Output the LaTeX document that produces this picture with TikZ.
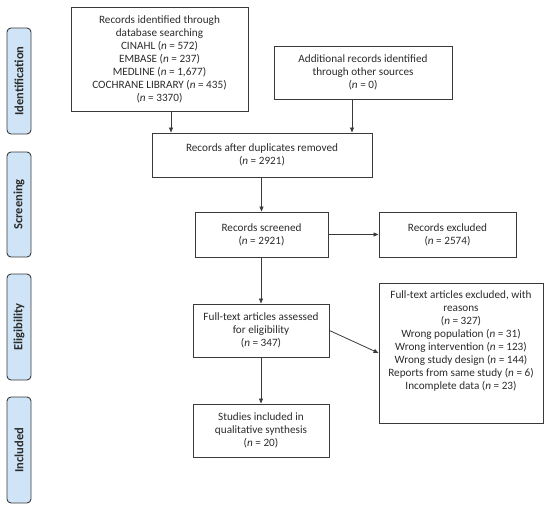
\documentclass[tikz,border=0pt]{standalone}
\usepackage{fontspec}
\setmainfont{Carlito}
\usetikzlibrary{arrows.meta,calc}
\definecolor{phasefill}{HTML}{CFE5F7}
\definecolor{txt}{HTML}{2B2B2B}
\definecolor{edge}{HTML}{3A3A3A}
\begin{document}
\begin{tikzpicture}[x=1pt,y=-1pt,
  box/.style={draw=edge,line width=0.9pt,rectangle,align=center,text=txt,font=\fontsize{11.2}{13}\selectfont,inner sep=2pt},
  phase/.style={draw=edge,line width=0.9pt,fill=phasefill,rounded corners=4pt,minimum height=24pt,text=txt,font=\fontsize{12.5}{13}\selectfont\bfseries,rotate=90,inner sep=0pt},
  plain/.style={align=center,text=txt,font=\fontsize{11.2}{13}\selectfont,inner sep=0pt},
  arr/.style={draw=edge,line width=0.8pt,-{Triangle[length=5pt,width=4pt]}}]
\useasboundingbox (0,0) rectangle (550,506);
% phase labels
\node[phase,minimum width=106pt] (pid) at (19,81) {Identification};
\node[phase,minimum width=105pt] (psc) at (19,204.5) {Screening};
\node[phase,minimum width=106pt] (pel) at (19,327) {Eligibility};
\node[phase,minimum width=106pt] (pin) at (19,450) {Included};
% boxes
\node[box,minimum width=177pt,minimum height=104pt] (b1) at (159.5,59) {Records identified through\\database searching\\CINAHL (\textit{n} = 572)\\EMBASE (\textit{n} = 237)\\MEDLINE (\textit{n} = 1,677)\\COCHRANE LIBRARY (\textit{n} = 435)\\(\textit{n} = 3370)};
\node[box,minimum width=178pt,minimum height=53pt] (b2) at (363,72.5) {Additional records identified\\through other sources\\(\textit{n} = 0)};
\node[box,minimum width=220pt,minimum height=44pt] (b3) at (262,155) {Records after duplicates removed\\(\textit{n} = 2921)};
\node[box,minimum width=133pt,minimum height=45pt] (b4) at (261.5,234.5) {Records screened\\(\textit{n} = 2921)};
\node[box,minimum width=137pt,minimum height=45pt] (b5) at (447.5,234.5) {Records excluded\\(\textit{n} = 2574)};
\node[box,minimum width=136pt,minimum height=53pt] (b6) at (261,330.5) {Full-text articles assessed\\for eligibility\\(\textit{n} = 347)};
\node[box,minimum width=164pt,minimum height=140pt] (b7) at (461,353) {};
\node[plain,anchor=north] (b7t) at (461,290.5) {Full-text articles excluded, with\\reasons\\(\textit{n} = 327)\\Wrong population (\textit{n} = 31)\\Wrong intervention (\textit{n} = 123)\\Wrong study design (\textit{n} = 144)\\Reports from same study (\textit{n} = 6)\\Incomplete data (\textit{n} = 23)};
\node[box,minimum width=136pt,minimum height=53pt] (b8) at (261,430.5) {Studies included in\\qualitative synthesis\\(\textit{n} = 20)};
% arrows
\draw[arr] (b1.south -| 171,0) -- (b3.north -| 171,0);
\draw[arr] (b2.south -| 352,0) -- (b3.north -| 352,0);
\draw[arr] (b3.south -| b4.north) -- (b4.north);
\draw[arr] (b4.east) -- (b5.west);
\draw[arr] (b4.south -| b6.north) -- (b6.north);
\draw[arr] (b6.east) -- (b7.west);
\draw[arr] (b6.south) -- (b8.north);
\end{tikzpicture}
\end{document}
